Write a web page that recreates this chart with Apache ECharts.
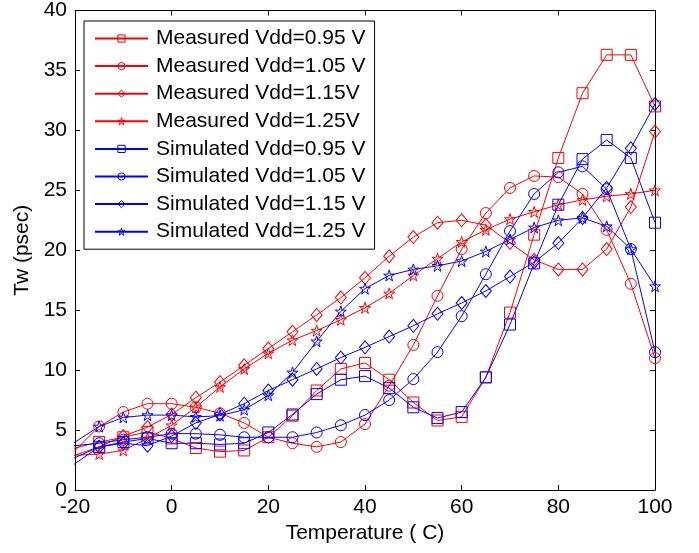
<!DOCTYPE html>
<html>
<head>
<meta charset="utf-8">
<script src="https://cdn.jsdelivr.net/npm/echarts@6/dist/echarts.min.js"></script>
<style>
html,body{margin:0;padding:0;background:#fff;}
#chart{width:699px;height:553px;}
</style>
</head>
<body>
<div id="chart"></div>
<script>
// Temperature points (first point lies outside the axis range and is clipped)
var temps = [-25,-15,-10,-5,0,5,10,15,20,25,30,35,40,45,50,55,60,65,70,75,80,85,90,95,100];

var measured095 = [3.0,4.0,4.4,4.85,4.3,3.5,3.2,3.3,4.4,6.2,8.3,10.1,10.6,9.2,7.3,5.8,6.1,9.4,14.8,21.3,27.7,33.1,36.3,36.3,32.0];
var measured105 = [1.3,5.3,6.5,7.2,7.2,6.9,6.4,5.6,4.4,3.9,3.6,4.0,5.5,8.7,12.1,16.2,20.1,23.1,25.2,26.2,26.1,24.7,21.7,17.2,11.0];
var measured115 = [2.2,3.6,4.5,5.25,6.3,7.7,9.0,10.4,11.8,13.2,14.6,16.05,17.7,19.5,21.1,22.3,22.5,22.1,20.6,19.2,18.4,18.4,20.1,23.6,29.9];
var measured125 = [2.8,3.0,3.3,4.3,5.4,6.9,8.6,10.1,11.4,12.5,13.3,14.2,15.2,16.4,17.9,19.3,20.7,21.7,22.6,23.2,23.8,24.2,24.5,24.7,25.0];
var simulated095 = [1.8,3.6,4.0,4.3,3.9,3.9,3.8,3.9,4.8,6.3,8.0,9.2,9.5,8.5,6.9,6.0,6.5,9.4,13.8,18.9,23.8,27.6,29.2,27.7,22.3];
var simulated105 = [3.5,3.9,4.2,4.4,4.7,4.7,4.6,4.4,4.4,4.4,4.8,5.4,6.25,7.5,9.25,11.5,14.5,18.0,21.6,24.7,26.5,27.0,25.1,20.1,11.5];
var simulated115 = [0.8,3.6,3.9,3.7,4.5,5.6,6.3,7.2,8.3,9.2,10.1,11.05,11.9,12.8,13.7,14.7,15.6,16.6,17.8,19.0,20.6,22.7,25.2,28.5,32.2];
var simulated125 = [2.7,5.3,6.05,6.25,6.25,6.1,6.2,6.7,7.9,9.8,12.4,14.9,16.8,17.9,18.4,18.7,19.1,19.9,20.9,21.9,22.5,22.7,22.0,20.1,17.0];

var seriesNames = ['Measured Vdd=0.95 V','Measured Vdd=1.05 V','Measured Vdd=1.15V','Measured Vdd=1.25V',
                   'Simulated Vdd=0.95 V','Simulated Vdd=1.05 V','Simulated Vdd=1.15 V','Simulated Vdd=1.25 V'];
var seriesData = [measured095, measured105, measured115, measured125, simulated095, simulated105, simulated115, simulated125];

var xTicks = [-20,0,20,40,60,80,100];
var yTicks = [0,5,10,15,20,25,30,35,40];

var STAR = 'path://M100,0 L122.45,69.1 L195.1,69.1 L136.3,111.8 L158.8,180.9 L100,138.2 L41.2,180.9 L63.7,111.8 L4.9,69.1 L77.55,69.1 Z';
var symbols = ['rect','circle','diamond',STAR,'rect','circle','diamond',STAR];
var sizes = [[11,11],[11,11],[11,13],[11,11],[11,11],[11,11],[11,13],[11,11]];
var colors = ['#ff0000','#ff0000','#ff0000','#ff0000','#0000ff','#0000ff','#0000ff','#0000ff'];

var FONT = 'Arial, "Liberation Sans", Helvetica, sans-serif';
var FS = 21;

var series = seriesNames.map(function(name, i){
  var d = temps.map(function(t, j){ return [t, seriesData[i][j]]; });
  return {
    name: name,
    type: 'line',
    data: d,
    clip: true,
    symbol: symbols[i],
    symbolSize: sizes[i],
    showAllSymbol: true,
    lineStyle: {color: colors[i], width: 1},
    itemStyle: {color: 'rgba(255,255,255,0)', borderColor: colors[i], borderWidth: 1},
    emphasis: {disabled: true},
    animation: false,
    z: 2
  };
});

var chart = echarts.init(document.getElementById('chart'), null, {renderer: 'canvas'});
function axisCommon(){
  return {
    axisLine: {show: true, onZero: false, lineStyle: {color: '#000', width: 1}},
    axisTick: {show: true, inside: true, length: 5, lineStyle: {color: '#000'}},
    splitLine: {show: false}
  };
}
chart.setOption({
  backgroundColor: '#fff',
  animation: false,
  grid: {left: 75, right: 44, top: 10, bottom: 63, containLabel: false},
  xAxis: [
    Object.assign({
      type: 'value', min: -20, max: 100, interval: 20, position: 'bottom',
      name: 'Temperature ( C)', nameLocation: 'middle', nameGap: 33,
      nameTextStyle: {fontFamily: FONT, fontSize: FS, color: '#000'},
      axisLabel: {fontFamily: FONT, fontSize: FS, color: '#000', margin: 7,
        formatter: function(v){ return xTicks.indexOf(v) >= 0 ? String(v) : ''; }}
    }, axisCommon()),
    Object.assign({
      type: 'value', min: -20, max: 100, interval: 20, position: 'top',
      axisLabel: {show: false}
    }, axisCommon())
  ],
  yAxis: [
    Object.assign({
      type: 'value', min: 0, max: 40, interval: 5, position: 'left',
      name: 'Tw (psec)', nameLocation: 'middle', nameGap: 42, nameRotate: 90,
      nameTextStyle: {fontFamily: FONT, fontSize: FS, color: '#000'},
      axisLabel: {fontFamily: FONT, fontSize: FS, color: '#000', margin: 8,
        formatter: function(v){ return yTicks.indexOf(v) >= 0 ? String(v) : ''; }}
    }, axisCommon()),
    Object.assign({
      type: 'value', min: 0, max: 40, interval: 5, position: 'right',
      axisLabel: {show: false}
    }, axisCommon())
  ],
  legend: {
    show: true,
    orient: 'vertical',
    left: 84, top: 21,
    itemWidth: 53, itemHeight: 9, itemGap: 6.6,
    padding: [7, 9, 7, 10],
    backgroundColor: '#fff',
    borderColor: '#000', borderWidth: 1,
    itemStyle: {color: 'rgba(255,255,255,0)', borderColor: 'inherit', borderWidth: 1},
    textStyle: {fontFamily: FONT, fontSize: FS, color: '#000', lineHeight: 21, padding: [0,0,0,3]},
    selectedMode: false,
    z: 10,
    data: seriesNames
  },
  series: series
});
</script>
</body>
</html>
